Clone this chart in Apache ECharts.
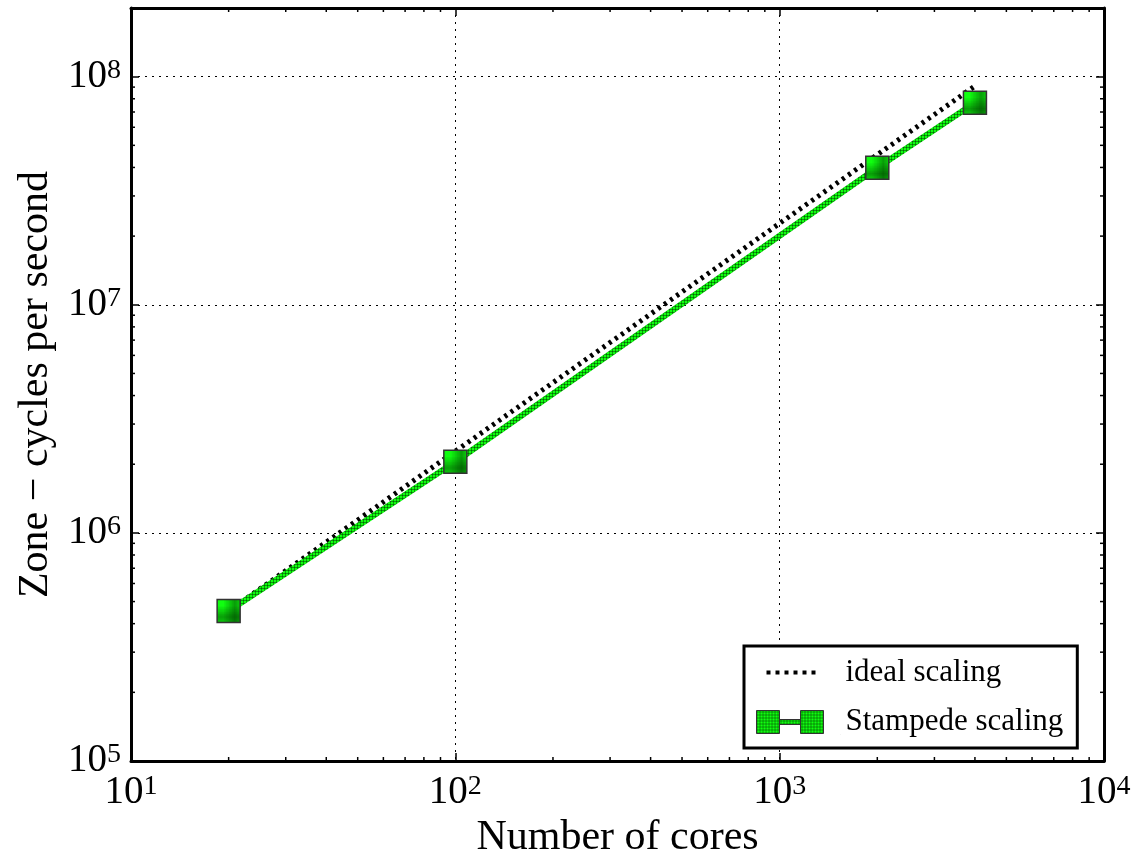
<!DOCTYPE html>
<html><head><meta charset="utf-8">
<script src="https://cdn.jsdelivr.net/npm/echarts@6/dist/echarts.min.js"></script>
<style>html,body{margin:0;padding:0;background:#fff;overflow:hidden}#c{width:1144px;height:854px}</style>
</head><body><div id="c"></div>
<script>
const cores = [20, 100, 2000, 4000];
const stampede = [4.55e5, 2.05e6, 3.99e7, 7.69e7];
const ideal = [4.55e5, 2.28e6, 4.55e7, 9.1e7];
const xMinor = [20,30,40,50,60,70,80,90,200,300,400,500,600,700,800,900,2000,3000,4000,5000,6000,7000,8000,9000];
const yMinor = [2e5,3e5,4e5,5e5,6e5,7e5,8e5,9e5,2e6,3e6,4e6,5e6,6e6,7e6,8e6,9e6,2e7,3e7,4e7,5e7,6e7,7e7,8e7,9e7];
const xMin = 10, xMax = 1e4, yMin = 1e5, yMax = 2e8;

const FONT = 'Liberation Serif';
function makePattern() {
  const c = document.createElement('canvas');
  c.width = 3; c.height = 3;
  const g = c.getContext('2d');
  g.fillStyle = '#10ff10'; g.fillRect(0,0,3,3);
  g.fillStyle = 'rgba(0,40,0,0.45)';
  g.fillRect(0,0,3,1); g.fillRect(0,0,1,3);
  return c;
}
const pat = {image: makePattern(), repeat: 'repeat'};

function powLabel(v) {
  const e = Math.log10(v);
  const r = Math.round(e);
  if (Math.abs(e - r) > 1e-6) return '';
  return '{b|10}{s|' + r + '}';
}
const rich = {
  b: {fontFamily: FONT, fontSize: 39, color: '#000', lineHeight: 40},
  s: {fontFamily: FONT, fontSize: 28, color: '#000', verticalAlign: 'top', lineHeight: 20}
};

const chart = echarts.init(document.getElementById('c'), null, {renderer: 'canvas', width: 1144, height: 854});
const axisLine = {show: true, onZero: false, lineStyle: {color: '#000', width: 3}};
const tick = {show: true, inside: true, length: 8, lineStyle: {color: '#000', width: 1.5}};
const grid = {show: true, lineStyle: {color: '#000', width: 1, type: [2, 5]}};

function minorRender(isX) {
  return function (params, api) {
    const cs = params.coordSys;
    const v = api.value(isX ? 0 : 1);
    const ch = [];
    if (isX) {
      const x = api.coord([v, yMin])[0];
      ch.push({type:'line', shape:{x1:x, y1:cs.y+cs.height, x2:x, y2:cs.y+cs.height-4}, style:{stroke:'#000', lineWidth:1.5}});
      ch.push({type:'line', shape:{x1:x, y1:cs.y, x2:x, y2:cs.y+4}, style:{stroke:'#000', lineWidth:1.5}});
    } else {
      const y = api.coord([xMin, v])[1];
      ch.push({type:'line', shape:{x1:cs.x, y1:y, x2:cs.x+4, y2:y}, style:{stroke:'#000', lineWidth:1.5}});
      ch.push({type:'line', shape:{x1:cs.x+cs.width, y1:y, x2:cs.x+cs.width-4, y2:y}, style:{stroke:'#000', lineWidth:1.5}});
    }
    return {type:'group', children: ch};
  };
}

// legend icons (box 84 x 26; tiny corner marks fix the bounding box)
const corners = 'M0,0h0.01v0.01h-0.01Z M84,26h-0.01v-0.01h0.01Z ';
const idealIcon = 'path://' + corners +
  'M10,11h4v4h-4Z M19,11h4v4h-4Z M28,11h4v4h-4Z M37,11h4v4h-4Z M46,11h4v4h-4Z M55,11h4v4h-4Z';
const stampIcon = 'path://' + corners +
  'M0,2H23V25H0Z M23,11H44V16H23Z M44,2H67V25H44Z';

chart.setOption({
  animation: false,
  backgroundColor: '#fff',
  grid: {left: 131, right: 40, top: 8, bottom: 93, containLabel: false, outerBoundsMode: 'none'},
  xAxis: [
    {type: 'log', logBase: 10, min: xMin, max: xMax, position: 'bottom',
     name: 'Number of cores', nameLocation: 'middle', nameGap: 47,
     nameTextStyle: {fontFamily: FONT, fontSize: 42, color: '#000'},
     axisLine: axisLine, axisTick: tick, splitLine: grid, minorTick: {show: false},
     axisLabel: {formatter: powLabel, rich: rich, margin: 12}},
    {type: 'log', logBase: 10, min: xMin, max: xMax, position: 'top',
     axisLine: axisLine, axisTick: tick, splitLine: {show: false}, axisLabel: {show: false}}
  ],
  yAxis: [
    {type: 'log', logBase: 10, min: yMin, max: yMax, position: 'left',
     name: 'Zone \u2212 cycles per second', nameLocation: 'middle', nameGap: 63, nameRotate: 90,
     nameTextStyle: {fontFamily: FONT, fontSize: 42, color: '#000'},
     axisLine: axisLine, axisTick: tick, splitLine: grid,
     axisLabel: {formatter: powLabel, rich: rich, margin: 10}},
    {type: 'log', logBase: 10, min: yMin, max: yMax, position: 'right',
     axisLine: axisLine, axisTick: tick, splitLine: {show: false}, axisLabel: {show: false}}
  ],
  legend: {
    orient: 'vertical', left: 744, top: 646,
    backgroundColor: '#fff', borderColor: '#000', borderWidth: 3, borderRadius: 0,
    padding: [11, 14, 11, 12], itemGap: 18, itemWidth: 84, itemHeight: 26,
    symbolKeepAspect: false,
    textStyle: {fontFamily: FONT, fontSize: 31, color: '#000'},
    data: [
      {name: 'ideal scaling', icon: idealIcon, itemStyle: {color: '#000', borderWidth: 0}},
      {name: 'Stampede scaling', icon: stampIcon, itemStyle: {color: pat, borderColor: '#333', borderWidth: 1}}
    ]
  },
  series: [
    {name: 'ideal scaling', type: 'line', data: cores.map((c, i) => [c, ideal[i]]),
     symbol: 'none', z: 3,
     itemStyle: {color: '#000'},
     lineStyle: {color: '#000', width: 5, type: [3, 4.5], cap: 'butt'}},
    {name: 'Stampede scaling', type: 'line', data: cores.map((c, i) => [c, stampede[i]]),
     symbol: 'rect', symbolSize: 23, z: 4,
     itemStyle: {color: pat, borderColor: '#333', borderWidth: 1.5},
     lineStyle: {color: pat, width: 6}},
    {type: 'custom', data: xMinor.map(v => [v, yMin]), renderItem: minorRender(true), silent: true, z: 5},
    {type: 'custom', data: yMinor.map(v => [xMin, v]), renderItem: minorRender(false), silent: true, z: 5}
  ]
});
</script></body></html>
